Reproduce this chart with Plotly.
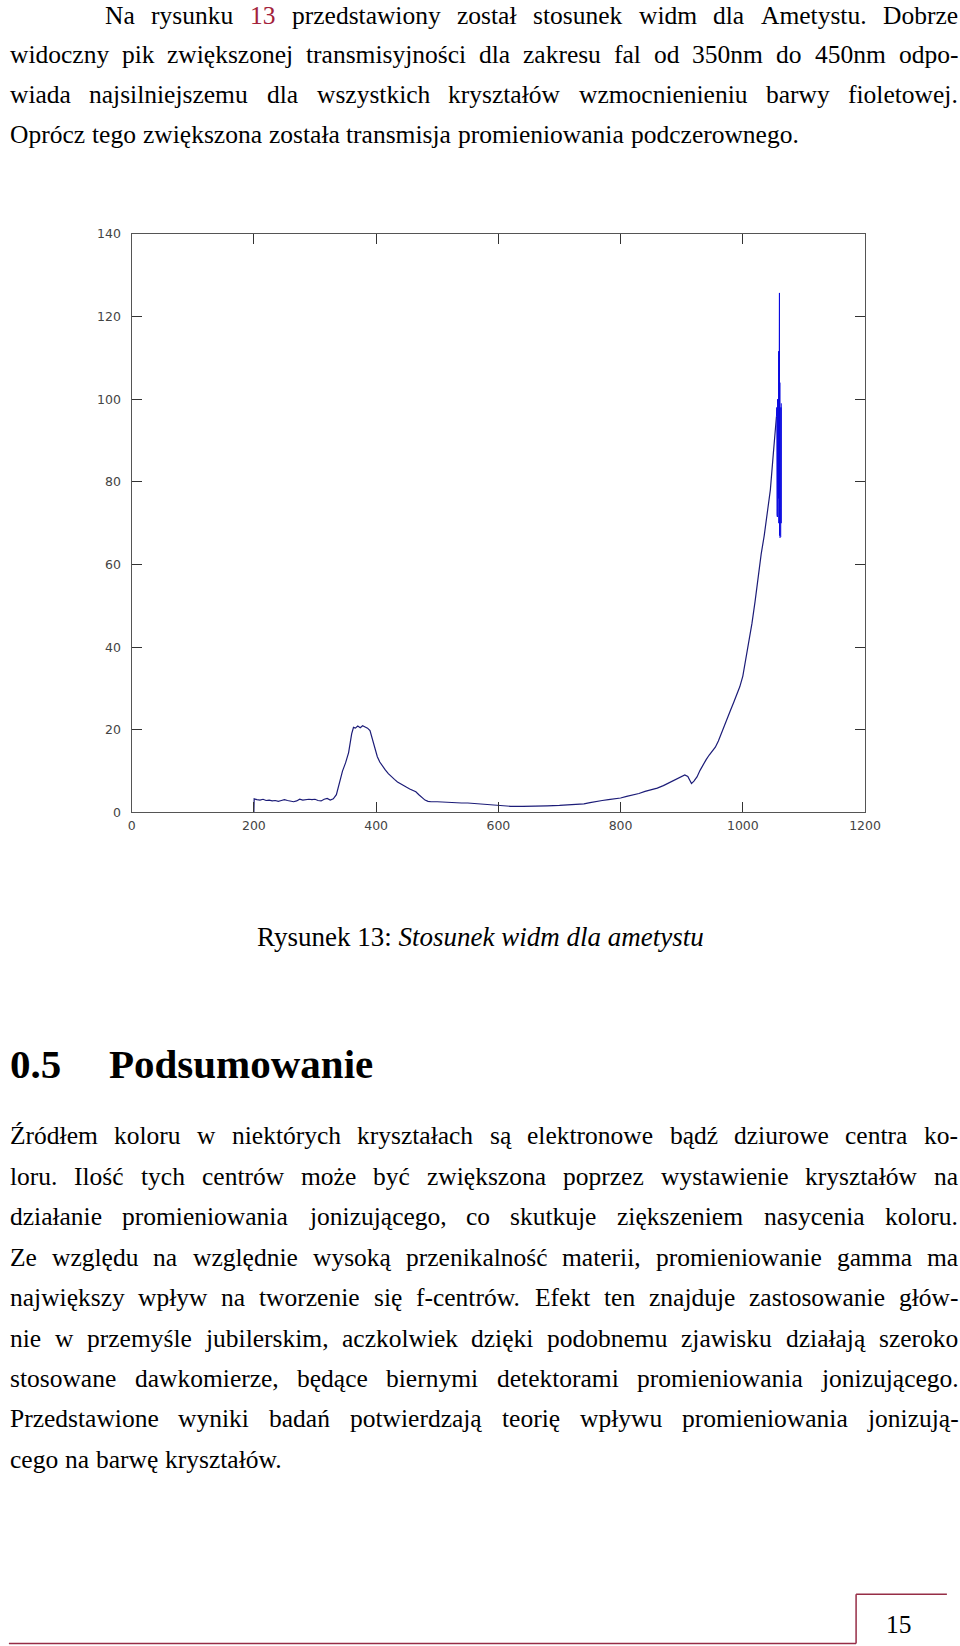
import plotly.graph_objects as go

W, H = 960, 1646

# ---------------- chart data ----------------
wavelength = [200, 200.5, 205, 210, 215, 220, 225, 230, 235, 240, 245, 250, 255, 260, 265, 270,
              275, 280, 285, 290, 295, 300, 305, 310, 315, 320, 325, 330, 335, 340, 345, 350,
              355, 360, 363, 366, 370, 374, 378, 382, 386, 390, 394, 398, 402, 406, 410, 415,
              420, 425, 430, 435, 440, 445, 450, 455, 460, 465, 470, 475, 480, 485, 490, 500,
              510, 520, 530, 540, 550, 560, 570, 580, 590, 600, 610, 620, 640, 660, 680, 700,
              720, 740, 750, 760, 770, 780, 790, 800, 810, 820, 830, 840, 850, 860, 870, 880,
              890, 900, 905, 910, 913, 916, 920, 925, 930, 935, 940, 945, 950, 955, 960, 965,
              970, 975, 980, 985, 990, 995, 1000, 1005, 1010, 1015, 1020, 1025, 1030, 1035,
              1040, 1045, 1050, 1055]
ratio = [0.0, 3.3, 3.1, 3.0, 3.2, 2.9, 3.0, 2.8, 2.9, 2.7, 2.9, 3.1, 2.9, 2.7, 2.6, 2.8,
         3.2, 3.0, 3.1, 3.2, 3.1, 3.2, 2.9, 2.8, 3.2, 3.4, 3.0, 3.3, 4.3, 7.0, 10.0, 12.0,
         14.5, 19.0, 20.6, 20.4, 20.9, 20.5, 21.0, 20.7, 20.4, 19.8, 17.5, 15.5, 13.5, 12.2, 11.3, 10.3,
         9.4, 8.6, 8.0, 7.4, 6.9, 6.5, 6.1, 5.7, 5.3, 5.0, 4.3, 3.6, 3.0, 2.7, 2.6, 2.6,
         2.5, 2.4, 2.4, 2.3, 2.3, 2.2, 2.1, 2.0, 1.9, 1.8, 1.6, 1.5, 1.5, 1.5, 1.6, 1.7,
         1.9, 2.1, 2.4, 2.7, 2.9, 3.1, 3.3, 3.5, 3.9, 4.2, 4.6, 5.1, 5.5, 5.9, 6.5, 7.2,
         7.9, 8.7, 9.1, 8.7, 8.0, 7.0, 7.6, 8.6, 10.2, 11.7, 12.8, 13.9, 14.9, 15.8, 17.3, 19.3,
         21.2, 22.9, 24.8, 26.6, 28.6, 30.4, 33.0, 37.0, 41.5, 45.8, 51.0, 57.0, 62.5, 67.0,
         72.0, 78.0, 87.0, 95.8]

# noisy end of the spectrum (drawn brighter, as in the picture)
tail_wavelength = [1055, 1055.6, 1056.0, 1056.3, 1056.6, 1056.9, 1057.2, 1057.5, 1057.8, 1058.1,
                   1058.4, 1058.7, 1059.0, 1059.3, 1059.6, 1059.9, 1060.2, 1060.5, 1060.8,
                   1061.1, 1061.4, 1061.7, 1062.0, 1062.3, 1062.6, 1062.9]
tail_ratio = [95.8, 98.0, 72.0, 99.0, 71.5, 100.0, 74.0, 97.0, 80.0, 102.0, 76.0, 111.6, 70.0,
              108.0, 68.0, 125.7, 67.0, 104.0, 66.5, 102.0, 68.0, 101.0, 66.7, 98.0, 70.0, 99.0]

x_ticks = [0, 200, 400, 600, 800, 1000, 1200]
y_ticks = [0, 20, 40, 60, 80, 100, 120, 140]

# ---------------- page text ----------------
para1_lines = [
    "Na rysunku 13 przedstawiony został stosunek widm dla Ametystu. Dobrze",
    "widoczny pik zwiększonej transmisyjności dla zakresu fal od 350nm do 450nm odpo-",
    "wiada najsilniejszemu dla wszystkich kryształów wzmocnienieniu barwy fioletowej.",
    "Oprócz tego zwiększona została transmisja promieniowania podczerownego.",
]
para2_lines = [
    "Źródłem koloru w niektórych kryształach są elektronowe bądź dziurowe centra ko-",
    "loru. Ilość tych centrów może być zwiększona poprzez wystawienie kryształów na",
    "działanie promieniowania jonizującego, co skutkuje ziększeniem nasycenia koloru.",
    "Ze względu na względnie wysoką przenikalność materii, promieniowanie gamma ma",
    "największy wpływ na tworzenie się f-centrów. Efekt ten znajduje zastosowanie głów-",
    "nie w przemyśle jubilerskim, aczkolwiek dzięki podobnemu zjawisku działają szeroko",
    "stosowane dawkomierze, będące biernymi detektorami promieniowania jonizującego.",
    "Przedstawione wyniki badań potwierdzają teorię wpływu promieniowania jonizują-",
    "cego na barwę kryształów.",
]
caption_label = "Rysunek 13:"
caption_title = "Stosunek widm dla ametystu"
heading_number = "0.5"
heading_title = "Podsumowanie"
page_number = "15"
link_word = "13"

SERIF = "Liberation Serif"
FS = 25.5
LINK_COLOR = "#a3213a"
RULE_COLOR = "#962d46"

# the rendered paper area is slightly inset in the screenshot; map page pixels to paper coords
OX, SX = 3.1, 942.0
OY, SY = 8.4, 1629.2


def fx(px):
    return (px - OX) / SX


def fy(py):
    return 1 - (py - OY) / SY


# Times / Liberation Serif advance widths (1/1000 em) used for justification
_M = dict(a=444, b=500, c=444, d=500, e=444, f=333, g=500, h=500, i=278, j=278, k=500, l=278,
          m=778, n=500, o=500, p=500, q=500, r=333, s=389, t=278, u=500, v=500, w=722, x=500,
          y=500, z=444, A=722, B=667, C=667, D=722, E=611, F=556, G=722, H=722, I=333, J=389,
          K=722, L=611, M=889, N=722, O=722, P=556, Q=722, R=667, S=556, T=611, U=722, V=722,
          W=944, X=722, Y=722, Z=611)
_M.update({".": 250, ",": 250, "-": 333, ":": 278, " ": 250})
for _d in "0123456789":
    _M[_d] = 500
_BASE = {"ą": "a", "ć": "c", "ę": "e", "ł": "l", "ń": "n", "ó": "o", "ś": "s", "ź": "z",
         "ż": "z", "Ź": "Z", "Ż": "Z", "Ł": "L", "Ś": "S"}


def text_width(s, fs):
    return sum(_M.get(_BASE.get(ch, ch), 500) for ch in s) / 1000.0 * fs


fig = go.Figure()
fig.add_trace(go.Scatter(x=wavelength, y=ratio, mode="lines",
                         line=dict(color="#1c1c78", width=1.2), hoverinfo="skip",
                         showlegend=False))
fig.add_trace(go.Scatter(x=tail_wavelength, y=tail_ratio, mode="lines",
                         line=dict(color="#0a0ae0", width=1), hoverinfo="skip",
                         showlegend=False))

axis_common = dict(ticks="inside", ticklen=10, tickwidth=1.3, tickcolor="#333333",
                   showline=True, linecolor="#555555", linewidth=1.3, mirror="ticks",
                   showgrid=False, zeroline=False, fixedrange=True,
                   tickfont=dict(family="DejaVu Sans", size=12.5, color="#444444"))
fig.update_xaxes(range=[0, 1200], domain=[fx(131), fx(866)], tickvals=x_ticks,
                 ticklabelstandoff=1, **axis_common)
fig.update_yaxes(range=[0, 140], domain=[fy(812), fy(234)], tickvals=y_ticks,
                 ticklabelstandoff=7, **axis_common)


def add_text(x, yc, text, fs, color="#000000", anchor="left", family=SERIF):
    fig.add_annotation(x=fx(x), y=fy(yc), xref="paper", yref="paper", text=text,
                       showarrow=False, xanchor=anchor, yanchor="middle", borderpad=0,
                       font=dict(family=family, size=fs, color=color))


def add_line(line, x0, x1, yc, justify):
    words = line.split(" ")
    widths = [text_width(w, FS) for w in words]
    if justify and len(words) > 1:
        gap = (x1 - x0 - sum(widths)) / (len(words) - 1)
    else:
        gap = 0.28 * FS
    x = x0
    for w, wd in zip(words, widths):
        add_text(x, yc, w, FS, LINK_COLOR if w == link_word else "#000000")
        x += wd + gap


LEFT, RIGHT = 8, 958
p1_y = [15.5, 55.3, 95.1, 134.9]
for i, line in enumerate(para1_lines):
    add_line(line, 103 if i == 0 else LEFT, RIGHT, p1_y[i], i < len(para1_lines) - 1)

p2_y0, p2_step = 1135.0, 40.4
for i, line in enumerate(para2_lines):
    add_line(line, LEFT, RIGHT, p2_y0 + i * p2_step, i < len(para2_lines) - 1)

# caption
add_text(481, 936, caption_label + " <i>" + caption_title + "</i>", 27, anchor="center")

# section heading
add_text(8, 1063, "<b>" + heading_number + "</b>", 41)
add_text(107, 1063, "<b>" + heading_title + "</b>", 41)

# page number box
add_text(900.5, 1623, page_number, FS, anchor="center")
rule = dict(color=RULE_COLOR, width=1.5)
fig.add_shape(type="line", xref="paper", yref="paper", x0=fx(857), x1=fx(948),
              y0=fy(1593), y1=fy(1593), line=rule)
fig.add_shape(type="line", xref="paper", yref="paper", x0=fx(857), x1=fx(857),
              y0=fy(1593), y1=fy(1642), line=rule)
fig.add_shape(type="line", xref="paper", yref="paper", x0=fx(8), x1=fx(857),
              y0=fy(1642), y1=fy(1642), line=rule)

fig.update_layout(width=W, height=H, margin=dict(l=0, r=0, t=0, b=0),
                  paper_bgcolor="white", plot_bgcolor="white", showlegend=False)

fig.write_html("out.html", config={"displayModeBar": False})
